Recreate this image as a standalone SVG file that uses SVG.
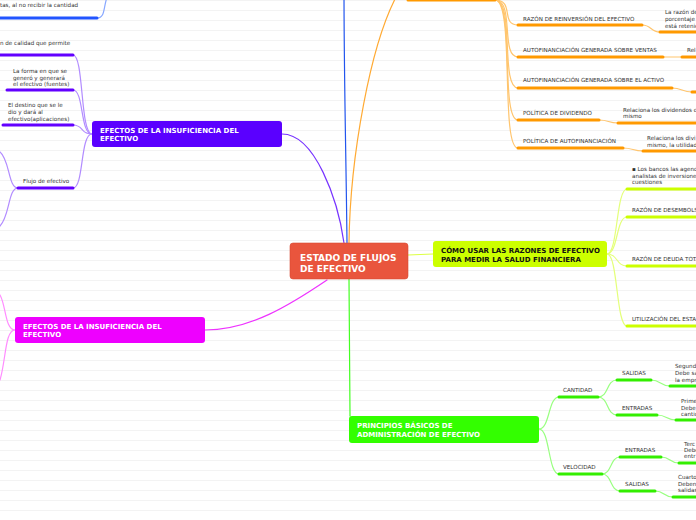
<svg xmlns="http://www.w3.org/2000/svg" width="696" height="520" viewBox="0 0 696 520">
<style>
.t{font-family:"DejaVu Sans",Verdana,sans-serif;font-size:5.6px;fill:#333}
.nb{font-family:"DejaVu Sans",Verdana,sans-serif;font-weight:bold;font-size:7px;fill:#fff}
.nk{font-family:"DejaVu Sans",Verdana,sans-serif;font-weight:bold;font-size:7px;fill:#111}
.c{fill:none;stroke-width:1.2;stroke-linecap:round}
.u{fill:none;stroke-width:3;stroke-linecap:round}
.or{stroke:#ff9900}.orc{stroke:#ffc56e}
.pu{stroke:#6300ff}.puc{stroke:#b28cff}
.ma{stroke:#ee00ff}.mac{stroke:#ff8cff}
.ye{stroke:#ccff00}.yec{stroke:#e4ff7a}
.gr{stroke:#33ee00}.grc{stroke:#99ff80}
.bl{stroke:#2255ff}.blc{stroke:#88a8ff}
</style>
<defs>
<pattern id="bg" width="696" height="10" patternUnits="userSpaceOnUse">
<rect width="696" height="10" fill="#ffffff"/>
<rect y="0" width="696" height="1" fill="#f3f3f3"/>
</pattern>
</defs>
<rect width="696" height="520" fill="url(#bg)"/>

<g id="connectors">
<!-- from central -->
<path class="c" stroke="#2255ee" stroke-width="1.5" d="M347,243 C346,150 344,80 344,-10"/>
<path class="c" stroke="#ffaa33" stroke-width="1.5" d="M349,243 C350,160 370,40 400,-10"/>
<path class="c" stroke="#7733ff" stroke-width="1.5" d="M282,134 C315,134 338,200 344,243"/>
<path class="c" stroke="#ee33ff" stroke-width="1.5" d="M205,330 C250,330 290,305 327,280"/>
<path class="c" stroke="#ddff44" stroke-width="1.5" d="M408,255 L433,254"/>
<path class="c" stroke="#44ff22" stroke-width="1.5" d="M349,279 L350,416"/>
<!-- blue -->
<path class="c blc" d="M97,18 C106,18 103,5 108,-5"/>
<!-- orange -->
<path class="c orc" d="M495,0 C515,0 500,25 518,25"/>
<path class="c orc" d="M495,0 C515,0 500,57 518,57"/>
<path class="c orc" d="M495,0 C515,0 500,88 518,88"/>
<path class="c orc" d="M495,0 C515,0 500,120 518,120"/>
<path class="c orc" d="M495,0 C515,0 500,148 518,148"/>
<path class="c orc" d="M642,25 C652,25 650,32 660,32"/>
<path class="c orc" d="M663,57 L682,57"/>
<path class="c orc" d="M672,88 C682,88 682,92 692,92"/>
<path class="c orc" d="M599,120 C609,120 608,123 618,123"/>
<path class="c orc" d="M623,148 C633,148 633,151 643,151"/>
<!-- purple -->
<path class="c puc" d="M92,134 C80,134 84,55 73,55"/>
<path class="c puc" d="M92,134 C80,134 84,90 73,90"/>
<path class="c puc" d="M92,134 C80,134 84,125 73,125"/>
<path class="c puc" d="M92,134 C80,134 84,188 73,188"/>
<path class="c puc" d="M18,188 C8,188 10,160 0,152"/>
<path class="c puc" d="M18,188 C8,188 10,216 0,226"/>
<!-- magenta -->
<path class="c mac" d="M15,330 C5,330 6,305 0,295"/>
<path class="c mac" d="M15,330 C5,330 6,360 0,380"/>
<!-- yellow -->
<path class="c yec" d="M607,254 C618,254 616,189 627,189"/>
<path class="c yec" d="M607,254 C618,254 616,217 627,217"/>
<path class="c yec" d="M607,254 C618,254 616,266 627,266"/>
<path class="c yec" d="M607,254 C618,254 616,326 627,326"/>
<!-- green -->
<path class="c grc" d="M539,429 C550,429 548,397 559,397"/>
<path class="c grc" d="M539,429 C550,429 548,474 559,474"/>
<path class="c grc" d="M598,397 C609,397 606,380 617,380"/>
<path class="c grc" d="M598,397 C609,397 606,415 617,415"/>
<path class="c grc" d="M602,474 C612,474 610,457 620,457"/>
<path class="c grc" d="M602,474 C612,474 610,491 620,491"/>
<path class="c grc" d="M651,380 C661,380 660,386 670,386"/>
<path class="c grc" d="M657,415 C667,415 666,420 676,420"/>
<path class="c grc" d="M661,457 C671,457 669,463 679,463"/>
<path class="c grc" d="M655,491 C665,491 663,497 673,497"/>
</g>

<g id="central">
<rect x="290" y="243" width="118" height="36" rx="3" fill="#e9553d" stroke="#d84a34" stroke-width="0.6"/>
<text class="nb" style="font-size:9px" x="300" y="261">ESTADO DE FLUJOS</text>
<text class="nb" style="font-size:9px" x="300" y="272">DE EFECTIVO</text>
</g>

<g id="blue-leaf">
<text class="t" x="0" y="7">tas, al no recibir la cantidad</text>
<path class="u bl" d="M-2,18 L97,18"/>
</g>

<g id="orange-parent"><path class="u or" d="M408,0 L495,0"/></g>
<g id="razon-reinversion">
<text class="t" x="523" y="21">RAZÓN DE REINVERSIÓN DEL EFECTIVO</text>
<path class="u or" d="M518,25 L642,25"/>
</g>
<g id="razon-reinversion-desc">
<text class="t" x="665" y="13.5">La razón de</text>
<text class="t" x="665" y="20.8">porcentaje</text>
<text class="t" x="665" y="27.8">está retenie</text>
<path class="u or" d="M660,32 L700,32"/>
</g>
<g id="autof-ventas">
<text class="t" x="523" y="52">AUTOFINANCIACIÓN GENERADA SOBRE VENTAS</text>
<path class="u or" d="M518,57 L663,57"/>
</g>
<g id="autof-ventas-desc">
<text class="t" x="687" y="52">Rel</text>
<path class="u or" d="M682,57 L700,57"/>
</g>
<g id="autof-activo">
<text class="t" x="523" y="82">AUTOFINANCIACIÓN GENERADA SOBRE EL ACTIVO</text>
<path class="u or" d="M518,88 L672,88"/>
</g>
<g id="autof-activo-desc"><path class="u or" d="M692,92 L700,92"/></g>
<g id="politica-dividendo">
<text class="t" x="523" y="115.3">POLÍTICA DE DIVIDENDO</text>
<path class="u or" d="M518,120 L599,120"/>
</g>
<g id="politica-dividendo-desc">
<text class="t" x="623" y="111.5">Relaciona los dividendos co</text>
<text class="t" x="623" y="118">mismo</text>
<path class="u or" d="M618,123 L700,123"/>
</g>
<g id="politica-autof">
<text class="t" x="523" y="143">POLÍTICA DE AUTOFINANCIACIÓN</text>
<path class="u or" d="M518,148 L623,148"/>
</g>
<g id="politica-autof-desc">
<text class="t" x="647" y="139.5">Relaciona los divi</text>
<text class="t" x="647" y="146.5">mismo, la utilidad</text>
<path class="u or" d="M643,151 L700,151"/>
</g>

<g id="efectos-purple">
<rect x="92" y="121" width="190" height="26" rx="3" fill="#5a00ff"/>
<text class="nb" x="100" y="133">EFECTOS DE LA INSUFICIENCIA DEL</text>
<text class="nb" x="100" y="141.3">EFECTIVO</text>
</g>
<g id="calidad">
<text class="t" x="0" y="45">n de calidad que permite</text>
<path class="u pu" d="M-2,55 L73,55"/>
</g>
<g id="fuentes">
<text class="t" x="13" y="73">La forma en que se</text>
<text class="t" x="13" y="79.7">generó y generará</text>
<text class="t" x="13" y="86.3">el efectivo (fuentes)</text>
<path class="u pu" d="M7,90 L73,90"/>
</g>
<g id="aplicaciones">
<text class="t" x="8" y="107">El destino que se le</text>
<text class="t" x="8" y="114.3">dio y dará al</text>
<text class="t" x="8" y="120.6">efectivo(aplicaciones)</text>
<path class="u pu" d="M3,125 L73,125"/>
</g>
<g id="flujo">
<text class="t" x="23" y="183">Flujo de efectivo</text>
<path class="u pu" d="M18,188 L73,188"/>
</g>

<g id="efectos-magenta">
<rect x="15" y="317" width="190" height="26" rx="3" fill="#ee00ff"/>
<text class="nb" x="23" y="329.3">EFECTOS DE LA INSUFICIENCIA DEL</text>
<text class="nb" x="23" y="337.4">EFECTIVO</text>
</g>

<g id="como-usar">
<rect x="433" y="241" width="174" height="26" rx="3" fill="#ccff00"/>
<text class="nk" x="441" y="253">CÓMO USAR LAS RAZONES DE EFECTIVO</text>
<text class="nk" x="441" y="261.5">PARA MEDIR LA SALUD FINANCIERA</text>
</g>
<g id="bancos">
<text class="t" x="632" y="171">▪ Los bancos las agencia</text>
<text class="t" x="632" y="177.7">analistas de inversiones</text>
<text class="t" x="632" y="184.3">cuestiones</text>
<path class="u ye" d="M627,189 L700,189"/>
</g>
<g id="desembolso">
<text class="t" x="632" y="212">RAZÓN DE DESEMBOLS</text>
<path class="u ye" d="M627,217 L700,217"/>
</g>
<g id="deuda-total">
<text class="t" x="632" y="260.7">RAZÓN DE DEUDA TOTA</text>
<path class="u ye" d="M627,266 L700,266"/>
</g>
<g id="utilizacion">
<text class="t" x="632" y="320.7">UTILIZACIÓN DEL ESTA</text>
<path class="u ye" d="M627,326 L700,326"/>
</g>

<g id="principios">
<rect x="349" y="416" width="190" height="27" rx="3" fill="#33ff00"/>
<text class="nb" x="357" y="428">PRINCIPIOS BÁSICOS DE</text>
<text class="nb" x="357" y="436.8">ADMINISTRACIÓN DE EFECTIVO</text>
</g>
<g id="cantidad">
<text class="t" x="563" y="392">CANTIDAD</text>
<path class="u gr" d="M559,397 L598,397"/>
</g>
<g id="velocidad">
<text class="t" x="563" y="469">VELOCIDAD</text>
<path class="u gr" d="M559,474 L602,474"/>
</g>
<g id="salidas-cantidad">
<text class="t" x="622" y="375">SALIDAS</text>
<path class="u gr" d="M617,380 L651,380"/>
</g>
<g id="entradas-cantidad">
<text class="t" x="622" y="410">ENTRADAS</text>
<path class="u gr" d="M617,415 L657,415"/>
</g>
<g id="entradas-velocidad">
<text class="t" x="625" y="452">ENTRADAS</text>
<path class="u gr" d="M620,457 L661,457"/>
</g>
<g id="salidas-velocidad">
<text class="t" x="625" y="486">SALIDAS</text>
<path class="u gr" d="M620,491 L655,491"/>
</g>
<g id="segundo">
<text class="t" x="675" y="368">Segund</text>
<text class="t" x="675" y="375">Debe sa</text>
<text class="t" x="675" y="381.5">la empr</text>
<path class="u gr" d="M670,386 L700,386"/>
</g>
<g id="primero">
<text class="t" x="681" y="403">Prime</text>
<text class="t" x="681" y="409.5">Debe</text>
<text class="t" x="681" y="416">cantid</text>
<path class="u gr" d="M676,420 L700,420"/>
</g>
<g id="tercero">
<text class="t" x="684" y="445.5">Terc</text>
<text class="t" x="684" y="451.5">Debe</text>
<text class="t" x="684" y="458">entr</text>
<path class="u gr" d="M679,463 L700,463"/>
</g>
<g id="cuarto">
<text class="t" x="678" y="479">Cuarto</text>
<text class="t" x="678" y="486">Deben</text>
<text class="t" x="678" y="492">salidas</text>
<path class="u gr" d="M673,497 L700,497"/>
</g>
</svg>
